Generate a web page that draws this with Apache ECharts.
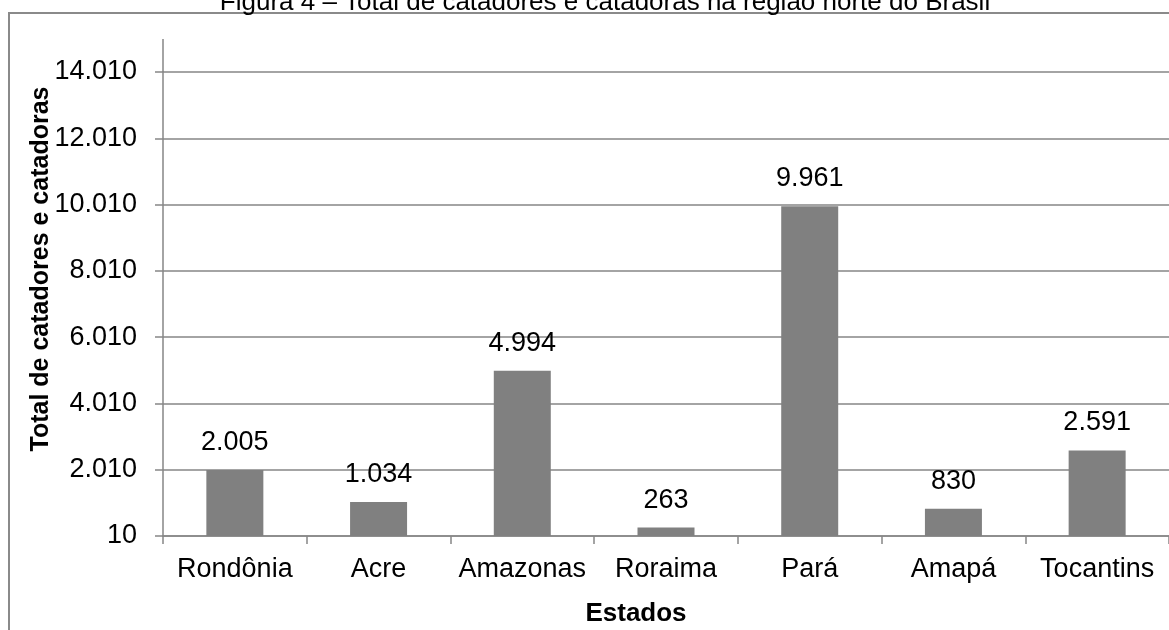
<!DOCTYPE html>
<html>
<head>
<meta charset="utf-8">
<script src="https://cdn.jsdelivr.net/npm/echarts@6/dist/echarts.min.js"></script>
<style>
html,body{margin:0;padding:0;background:#fff;}
#chart{width:1169px;height:630px;}
</style>
</head>
<body>
<div id="chart"></div>
<script>
const titleText = 'Figura 4 – Total de catadores e catadoras na região norte do Brasil';
const categories = ['Rondônia', 'Acre', 'Amazonas', 'Roraima', 'Pará', 'Amapá', 'Tocantins'];
const values = [2005, 1034, 4994, 263, 9961, 830, 2591];
const yMin = 10, yMax = 14010, yStep = 2000;
const xName = 'Estados';
const yName = 'Total de catadores e catadoras';

const fmt = v => String(Math.round(v)).replace(/\B(?=(\d{3})+(?!\d))/g, '.');
const gray = '#868686';
const font = '"Liberation Sans", Arial, sans-serif';

const chart = echarts.init(document.getElementById('chart'));
chart.setOption({
  animation: false,
  backgroundColor: '#fff',
  title: {
    text: titleText, left: 600, top: -15, textAlign: 'center',
    textStyle: { fontFamily: font, fontSize: 26, fontWeight: 'normal', color: '#000' }
  },
  grid: { left: 163, right: -7, top: 72, bottom: 94, containLabel: false },
  xAxis: {
    type: 'category', data: categories,
    axisLine: { lineStyle: { color: gray, width: 1.5 } },
    axisTick: { show: true, length: 8, interval: 0, lineStyle: { color: gray, width: 1.5 } },
    axisLabel: { fontFamily: font, fontSize: 27, color: '#000', margin: 20, interval: 0 },
    splitLine: { show: false }
  },
  yAxis: {
    type: 'value', min: yMin, max: yMax, interval: yStep,
    axisLine: { show: true, lineStyle: { color: gray, width: 1.5 } },
    axisTick: { show: true, length: 8, lineStyle: { color: gray, width: 1.5 } },
    axisLabel: { fontFamily: font, fontSize: 27, color: '#000', margin: 26, formatter: fmt },
    splitLine: { show: true, lineStyle: { color: gray, width: 1.5 } }
  },
  series: [{
    type: 'bar', data: values, barWidth: 57,
    itemStyle: { color: '#808080' },
    label: { show: true, position: 'top', distance: 14, fontFamily: font, fontSize: 27, color: '#000', formatter: p => fmt(p.value) }
  }],
  graphic: [
    { type: 'rect', shape: { x: 9, y: 13, width: 1400, height: 900 }, style: { fill: 'none', stroke: '#8a8a8a', lineWidth: 2 }, z: -1 },
    { type: 'line', shape: { x1: 163, y1: 39, x2: 163, y2: 72 }, style: { stroke: gray, lineWidth: 1.5 } },
    { type: 'text', x: 41, y: 269, rotation: Math.PI / 2,
      style: { text: yName, font: 'bold 25px ' + font, fill: '#000', align: 'center', verticalAlign: 'middle' } },
    { type: 'text', x: 636, y: 614,
      style: { text: xName, font: 'bold 26px ' + font, fill: '#000', align: 'center', verticalAlign: 'middle' } }
  ]
});
</script>
</body>
</html>
